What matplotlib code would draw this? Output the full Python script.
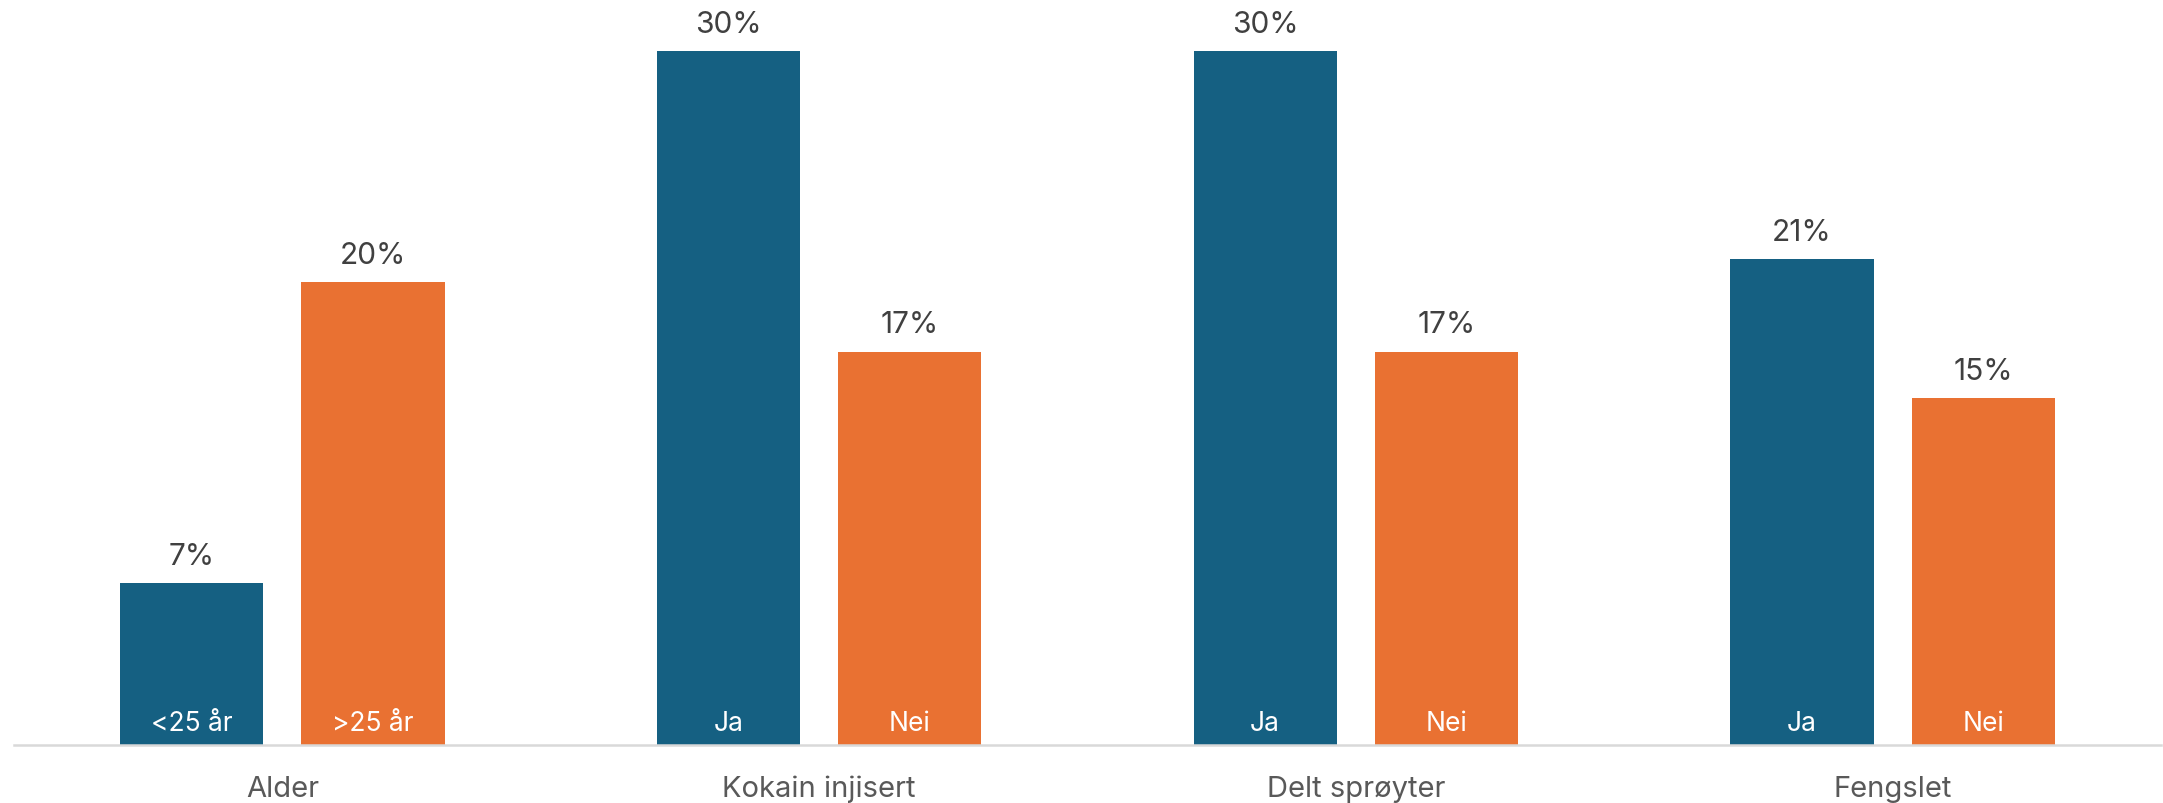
import numpy as np
import matplotlib.pyplot as plt

plt.rcParams['font.family'] = ['Inter', 'DejaVu Sans']

groups = ["Alder", "Kokain injisert", "Delt sprøyter", "Fengslet"]
first_vals = [7, 30, 30, 21]
second_vals = [20, 17, 17, 15]
first_labels = ["<25 år", "Ja", "Ja", "Ja"]
second_labels = [">25 år", "Nei", "Nei", "Nei"]

blue = "#156082"
orange = "#E97132"

fig = plt.figure(figsize=(21.63, 8.04), dpi=100)
ax = fig.add_axes([14 / 2163, 58 / 804, (2161 - 14) / 2163, 746 / 804])

x = np.arange(len(groups))
w = 0.267
off = 0.169

b1 = ax.bar(x - off, first_vals, w, color=blue)
b2 = ax.bar(x + off, second_vals, w, color=orange)

for bars, vals, inner in [(b1, first_vals, first_labels), (b2, second_vals, second_labels)]:
    for bar, v, lab in zip(bars, vals, inner):
        cx = bar.get_x() + bar.get_width() / 2
        ax.annotate(f"{v}%", (cx, v), xytext=(0, 14), textcoords="offset points",
                    ha="center", va="baseline", fontsize=21.5, color="#404040")
        ax.annotate(lab, (cx, 0), xytext=(0, 11), textcoords="offset points",
                    ha="center", va="baseline", fontsize=19, color="white")

for i, g in enumerate(groups):
    ax.annotate(g, (i, 0), xytext=(0, -36.5), textcoords="offset points",
                ha="center", va="baseline", fontsize=21, color="#595959",
                annotation_clip=False)

ax.set_xlim(-0.5, 3.5)
ax.set_ylim(0, 32.25)
ax.set_xticks([])
ax.set_yticks([])
for s in ["top", "right", "left"]:
    ax.spines[s].set_visible(False)
ax.spines["bottom"].set_color("#D9D9D9")
ax.spines["bottom"].set_linewidth(1.8)

fig.savefig("out.png", dpi=100)
